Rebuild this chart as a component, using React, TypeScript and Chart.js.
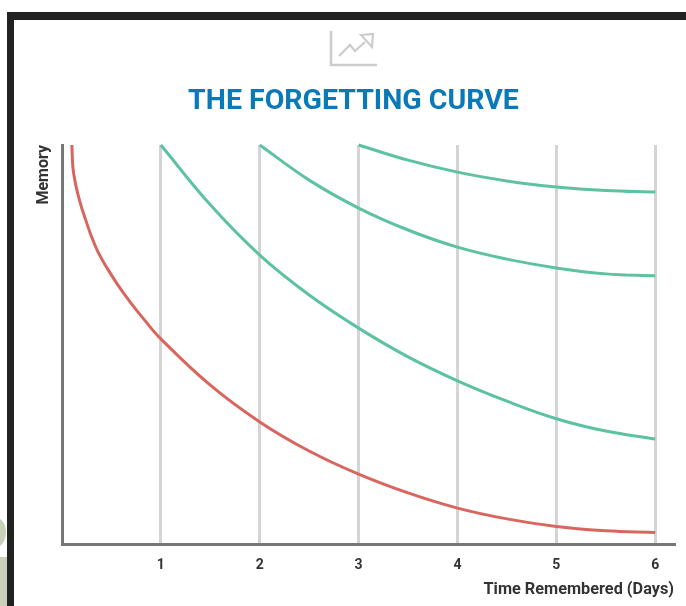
import React, { useEffect, useRef } from "react";
import { Chart, registerables } from "chart.js";

Chart.register(...registerables);

const titleText = "THE FORGETTING CURVE";
const xAxisLabel = "Time Remembered (Days)";
const yAxisLabel = "Memory";
const xTickValues = [1, 2, 3, 4, 5, 6];

const redDays = [0.1, 0.111, 0.139, 0.182, 0.233, 0.293, 0.364, 0.455, 0.566, 0.688, 0.819, 1, 1.5, 2, 2.5, 3, 3.5, 4, 4.5, 5, 5.5, 6];
const redMemory = [100, 94.2, 90, 85.7, 81.7, 77.4, 73.2, 69.2, 64.9, 60.7, 56.6, 51.4, 39.8, 30.6, 23.3, 17.5, 12.8, 9, 6.3, 4.4, 3.3, 2.9];

const review1Days = [1, 1.5, 2, 2.5, 3, 3.5, 4, 4.5, 5, 5.5, 6];
const review1Memory = [100, 85, 72.4, 62.4, 54.1, 46.9, 40.9, 35.8, 31.4, 28.3, 26.3];

const review2Days = [2, 2.5, 3, 3.5, 4, 4.5, 5, 5.5, 6];
const review2Memory = [100, 91.2, 84.2, 78.7, 74.4, 71.4, 69.2, 67.7, 67.2];

const review3Days = [3, 3.5, 4, 4.5, 5, 5.5, 6];
const review3Memory = [100, 96.2, 93.2, 91, 89.5, 88.6, 88.2];

const RED = "#d9665e";
const GREEN = "#5cc29f";

const toPoints = (xs: number[], ys: number[]) => xs.map((x, i) => ({ x, y: ys[i] }));

const line = (label: string, xs: number[], ys: number[], color: string) => ({
  label,
  data: toPoints(xs, ys),
  borderColor: color,
  backgroundColor: color,
  borderWidth: 3,
  pointRadius: 0,
  tension: 0.4,
  fill: false,
  clip: 3,
});

export default function App() {
  const ref = useRef<HTMLCanvasElement>(null);

  useEffect(() => {
    const chart = new Chart(ref.current!, {
      type: "line",
      data: {
        datasets: [
          line("First learned", redDays, redMemory, RED),
          line("Review 1", review1Days, review1Memory, GREEN),
          line("Review 2", review2Days, review2Memory, GREEN),
          line("Review 3", review3Days, review3Memory, GREEN),
        ],
      },
      options: {
        responsive: false,
        animation: false,
        layout: { padding: { left: 0, right: 12, top: 0, bottom: 0 } },
        plugins: {
          legend: { display: false },
          tooltip: { enabled: false },
          title: {
            display: true,
            text: titleText,
            color: "#0b78b8",
            font: { family: "Roboto", size: 28.5, weight: "bold", lineHeight: 1.2 },
            padding: { top: 85, bottom: 25.8 },
          },
        },
        scales: {
          x: {
            type: "linear",
            min: 0,
            max: 6.19,
            afterBuildTicks: (s: any) => {
              s.ticks = xTickValues.map((value) => ({ value }));
            },
            afterFit: (s: any) => {
              s.height = 62;
            },
            border: { display: true, color: "#777777", width: 3 },
            grid: { display: true, color: "#d4d4d4", lineWidth: 3, drawTicks: false },
            ticks: {
              color: "#333333",
              padding: 13,
              maxRotation: 0,
              font: { family: "Roboto", size: 14, weight: "bold" },
            },
            title: {
              display: true,
              text: xAxisLabel,
              align: "end",
              color: "#333333",
              font: { family: "Roboto", size: 16.3, weight: "bold" },
              padding: { top: 4, bottom: 6 },
            },
          },
          y: {
            type: "linear",
            min: 0,
            max: 100,
            afterFit: (s: any) => {
              s.width = 29;
            },
            border: { display: true, color: "#777777", width: 3 },
            grid: { display: false },
            ticks: { display: false },
            title: {
              display: true,
              text: yAxisLabel,
              align: "end",
              color: "#333333",
              font: { family: "Roboto", size: 16, weight: "bold" },
              padding: { top: 1, bottom: 0 },
            },
          },
        },
      },
    });
    return () => chart.destroy();
  }, []);

  return (
    <div style={{ position: "fixed", left: 0, top: 0, width: 686, height: 606, overflow: "hidden", background: "#fff" }}>
      <svg width={686} height={606} style={{ position: "absolute", left: 0, top: 0, filter: "blur(0.6px)" }}>
        <path d="M0 519 C8 524 8 540 0 546 Z" fill="#c9d1bb" />
        <path d="M0 557 L7 557 L7 606 L0 606 Z" fill="#c9d1bb" />
        <rect x={7} y={12} width={679} height={8} fill="#222222" />
        <rect x={7} y={12} width={7} height={594} fill="#222222" />
        <g fill="none" stroke="#cccccc" strokeWidth={2.2}>
          <path d="M331 31 V65 H377" strokeWidth={2.6} />
          <path d="M339 56 L350 45 L355 51 L365 42" />
          <path d="M361 35 L373 34 L372 47 Z" />
        </g>
      </svg>
      <canvas
        ref={ref}
        width={653}
        height={606}
        style={{ position: "absolute", left: 33, top: 0, display: "block", filter: "blur(0.4px)" }}
      />
    </div>
  );
}
